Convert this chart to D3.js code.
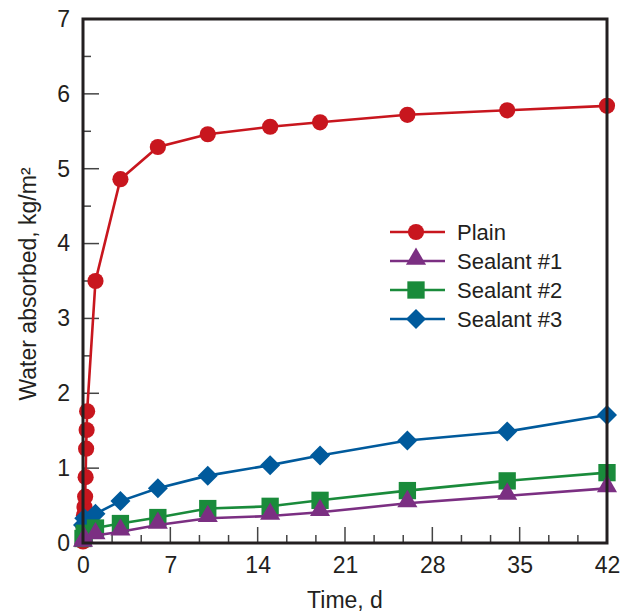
<!DOCTYPE html>
<html>
<head>
<meta charset="utf-8">
<script src="https://cdn.jsdelivr.net/npm/d3@7/dist/d3.min.js"></script>
<style>
html,body{margin:0;padding:0;background:#fff;}
svg{display:block;}
text{font-family:"Liberation Sans",Arial,Helvetica,sans-serif;fill:#231f20;}
</style>
</head>
<body>
<svg id="chart" width="628" height="614"></svg>
<script>
// ---- data ----
const seriesNames = ["Plain", "Sealant #1", "Sealant #2", "Sealant #3"];
const plainTime   = [0, 0.04, 0.08, 0.12, 0.17, 0.21, 0.25, 0.29, 0.33, 1, 3, 6, 10, 15, 19, 26, 34, 42];
const plainValue  = [0.02, 0.22, 0.37, 0.48, 0.62, 0.88, 1.26, 1.51, 1.76, 3.50, 4.86, 5.29, 5.46, 5.56, 5.62, 5.72, 5.78, 5.84];
const sealTime    = [0, 0.1, 1, 3, 6, 10, 15, 19, 26, 34, 42];
const sealant1    = [0.0, 0.04, 0.10, 0.15, 0.24, 0.33, 0.36, 0.41, 0.53, 0.63, 0.73];
const sealant2    = [0.06, 0.13, 0.20, 0.26, 0.34, 0.46, 0.49, 0.57, 0.70, 0.83, 0.94];
const sealant3    = [0.24, 0.33, 0.39, 0.56, 0.73, 0.90, 1.04, 1.17, 1.37, 1.49, 1.71];
const xTickLabels = [0, 7, 14, 21, 28, 35, 42];
const yTickLabels = [0, 1, 2, 3, 4, 5, 6, 7];
const xTitle = "Time, d";
const yTitle = "Water absorbed, kg/m²";

// ---- layout ----
const svg = d3.select("#chart");
const L = 83, R = 607, T = 19, B = 543;
const x = d3.scaleLinear().domain([0, 42]).range([L, R]);
const y = d3.scaleLinear().domain([0, 7]).range([B, T]);
const ink = "#231f20";

const styles = {
  "Plain":      {color: "#c8161e", shape: "circle"},
  "Sealant #1": {color: "#7b2f82", shape: "triangle"},
  "Sealant #2": {color: "#1a8b3b", shape: "square"},
  "Sealant #3": {color: "#005a9c", shape: "diamond"}
};
const wideDiamond = {
  draw(ctx, size) {
    const r = Math.sqrt(size / 2);
    ctx.moveTo(0, -r); ctx.lineTo(r, 0); ctx.lineTo(0, r); ctx.lineTo(-r, 0); ctx.closePath();
  }
};
const symbolSize = {circle: 205, triangle: 175, square: 300, diamond: 200};
const symbolType = {circle: d3.symbolCircle, triangle: d3.symbolTriangle, square: d3.symbolSquare, diamond: wideDiamond};

// ticks
const minorX = d3.range(0, 43, 7/3).filter(v => v <= 42.001);
const minorY = d3.range(0, 7.01, 0.5);
const tickG = svg.append("g");
minorX.forEach(v => {
  const major = Math.abs(v / 7 - Math.round(v / 7)) < 1e-6;
  tickG.append("line").attr("x1", x(v)).attr("x2", x(v))
    .attr("y1", B).attr("y2", B - (major ? 16 : 8))
    .attr("stroke", "#444").attr("stroke-width", 1.5);
});
minorY.forEach(v => {
  const major = Math.abs(v - Math.round(v)) < 1e-6;
  tickG.append("line").attr("y1", y(v)).attr("y2", y(v))
    .attr("x1", L).attr("x2", L + (major ? 16 : 8))
    .attr("stroke", "#444").attr("stroke-width", 1.5);
});

// axis labels via d3 axes (no lines)
const xAxis = d3.axisBottom(x).tickValues(xTickLabels).tickFormat(d3.format("d")).tickSize(0).tickPadding(14);
const gx = svg.append("g").attr("transform", `translate(0,${B})`).call(xAxis);
gx.select(".domain").remove();
gx.selectAll("text").attr("font-size", 23).attr("font-family", "Liberation Sans, Arial, sans-serif").attr("fill", ink);

const yAxis = d3.axisLeft(y).tickValues(yTickLabels).tickFormat(d3.format("d")).tickSize(0).tickPadding(13);
const gy = svg.append("g").attr("transform", `translate(${L},0)`).call(yAxis);
gy.select(".domain").remove();
gy.selectAll("text").attr("font-size", 23).attr("font-family", "Liberation Sans, Arial, sans-serif").attr("fill", ink);

// titles
svg.append("text").attr("x", (L + R) / 2).attr("y", 608).attr("text-anchor", "middle")
  .attr("font-size", 23).text(xTitle);
svg.append("text").attr("transform", `translate(36,284) rotate(-90)`)
  .attr("text-anchor", "middle").attr("font-size", 23).text(yTitle);

// series
const data = {
  "Plain": plainTime.map((t, i) => [t, plainValue[i]]),
  "Sealant #1": sealTime.map((t, i) => [t, sealant1[i]]),
  "Sealant #2": sealTime.map((t, i) => [t, sealant2[i]]),
  "Sealant #3": sealTime.map((t, i) => [t, sealant3[i]])
};
const line = d3.line().x(d => x(d[0])).y(d => y(d[1]));
const drawOrder = ["Plain", "Sealant #3", "Sealant #2", "Sealant #1"];
const symOffset = {circle: 0, triangle: -2, square: 0, diamond: 0};
drawOrder.forEach(name => {
  const st = styles[name];
  const g = svg.append("g");
  g.append("path").datum(data[name]).attr("d", line)
    .attr("fill", "none").attr("stroke", st.color).attr("stroke-width", 2.6);
  g.selectAll("path.m").data(data[name]).join("path").attr("class", "m")
    .attr("transform", d => `translate(${x(d[0])},${y(d[1]) + symOffset[st.shape]})`)
    .attr("d", d3.symbol().type(symbolType[st.shape]).size(symbolSize[st.shape]))
    .attr("fill", st.color);
});

// frame
svg.append("rect").attr("x", L).attr("y", T).attr("width", R - L).attr("height", B - T)
  .attr("fill", "none").attr("stroke", ink).attr("stroke-width", 3);

// legend
const legY = [232, 261, 290, 319];
const lg = svg.append("g");
seriesNames.forEach((name, i) => {
  const st = styles[name];
  lg.append("line").attr("x1", 390).attr("x2", 445).attr("y1", legY[i]).attr("y2", legY[i])
    .attr("stroke", st.color).attr("stroke-width", 2.6);
  lg.append("path").attr("transform", `translate(416,${legY[i] + symOffset[st.shape]})`)
    .attr("d", d3.symbol().type(symbolType[st.shape]).size(symbolSize[st.shape]))
    .attr("fill", st.color);
  lg.append("text").attr("x", 457).attr("y", legY[i] + 8).attr("font-size", 22).text(name);
});
</script>
</body>
</html>
